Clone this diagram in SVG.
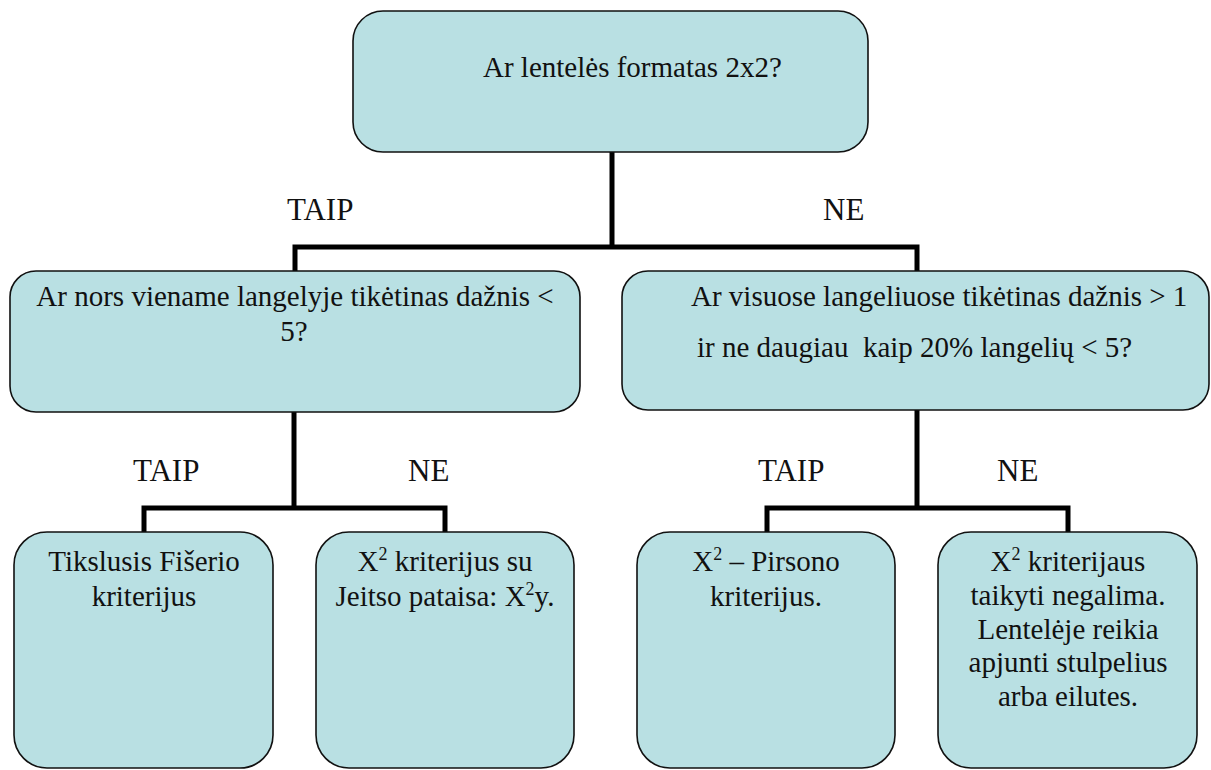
<svg xmlns="http://www.w3.org/2000/svg" width="1211" height="770" viewBox="0 0 1211 770">
<style>
.box{fill:#B9E0E3;stroke:#111;stroke-width:1.6}
text{font-family:'Liberation Serif','Times New Roman',serif;fill:#111}
.t{font-size:29px;white-space:pre}
.c{text-anchor:middle}
.lbl{font-size:31px}
.sup{font-size:18px}
.conn{fill:none;stroke:#000;stroke-width:5;stroke-linejoin:miter;stroke-linecap:butt}
</style>
<rect width="1211" height="770" fill="#fff"/>
<g id="connectors">
<path class="conn" d="M612 152 V247 M295 271 V247 H917 V271"/>
<path class="conn" d="M294 412 V508 M144 532 V508 H445 V532"/>
<path class="conn" d="M917 410 V508 M767 532 V508 H1068 V532"/>
</g>
<g id="labels">
<text class="lbl" x="287" y="220">TAIP</text>
<text class="lbl" x="823" y="220">NE</text>
<text class="lbl" x="133" y="481">TAIP</text>
<text class="lbl" x="408" y="481">NE</text>
<text class="lbl" x="758" y="481">TAIP</text>
<text class="lbl" x="997" y="481">NE</text>
</g>
<g id="n-root">
<rect class="box" x="353" y="11" width="515" height="141" rx="30"/>
<text class="t" x="483" y="77">Ar lentelės formatas 2x2?</text>
</g>
<g id="n-left">
<rect class="box" x="10" y="271" width="570" height="141" rx="26"/>
<text class="t c" x="295" y="306">Ar nors viename langelyje tikėtinas dažnis &lt;</text>
<text class="t c" x="294" y="341">5?</text>
</g>
<g id="n-right">
<rect class="box" x="622" y="271" width="587" height="139" rx="26"/>
<text class="t" x="691" y="306">Ar visuose langeliuose tikėtinas dažnis &gt; 1</text>
<text class="t" x="697" y="357">ir ne daugiau  kaip 20% langelių &lt; 5?</text>
</g>
<g id="n-fisher">
<rect class="box" x="14" y="532" width="259" height="236" rx="33"/>
<text class="t c" x="144" y="571">Tikslusis Fišerio</text>
<text class="t c" x="144" y="606">kriterijus</text>
</g>
<g id="n-yates">
<rect class="box" x="316" y="532" width="258" height="236" rx="33"/>
<text class="t c" x="445" y="571">X<tspan class="sup" dy="-11">2</tspan><tspan dy="11"> kriterijus su</tspan></text>
<text class="t c" x="445" y="606">Jeitso pataisa: X<tspan class="sup" dy="-11">2</tspan><tspan dy="11">y.</tspan></text>
</g>
<g id="n-pearson">
<rect class="box" x="637" y="532" width="258" height="236" rx="33"/>
<text class="t c" x="766" y="571">X<tspan class="sup" dy="-11">2</tspan><tspan dy="11"> – Pirsono</tspan></text>
<text class="t c" x="766" y="606">kriterijus.</text>
</g>
<g id="n-none">
<rect class="box" x="938" y="532" width="259" height="236" rx="33"/>
<text class="t c" x="1068" y="571">X<tspan class="sup" dy="-11">2</tspan><tspan dy="11"> kriterijaus</tspan></text>
<text class="t c" x="1068" y="605">taikyti negalima.</text>
<text class="t c" x="1068" y="639">Lentelėje reikia</text>
<text class="t c" x="1068" y="672">apjunti stulpelius</text>
<text class="t c" x="1068" y="706">arba eilutes.</text>
</g>
</svg>
